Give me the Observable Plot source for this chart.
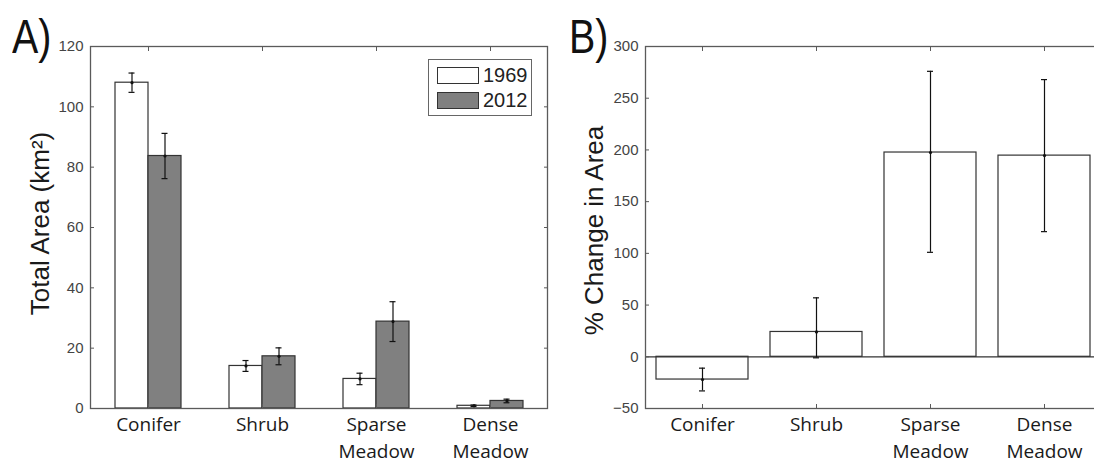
<!DOCTYPE html>
<html><head><meta charset="utf-8">
<script src="https://cdn.jsdelivr.net/npm/d3@7"></script>
<script src="https://cdn.jsdelivr.net/npm/@observablehq/plot@0.6"></script>
<style>
html,body{margin:0;padding:0;background:#fff;overflow:hidden;}
#wrap{position:relative;width:1094px;height:464px;overflow:hidden;background:#fff;}
.panel{position:absolute;top:0;}
.tag{position:absolute;font-family:"Liberation Sans",Arial,sans-serif;font-size:48px;line-height:48px;color:#111;transform:scaleX(0.82);transform-origin:0 0;}
.legend{position:absolute;left:428px;top:59px;width:102px;height:55px;border:1.5px solid #666;background:#fff;box-sizing:content-box;}
.legend .row{position:absolute;left:8px;height:19px;display:flex;align-items:center;}
.legend .sw{width:42px;height:17px;border:1.5px solid #333;box-sizing:border-box;}
.legend .lab{font-family:"Liberation Sans",Arial,sans-serif;font-size:20px;color:#222;margin-left:4px;}
</style></head>
<body><div id="wrap"></div>
<script>
// ---- data ----
const categories = ["Conifer", "Shrub", "Sparse\nMeadow", "Dense\nMeadow"];
const years = ["1969", "2012"];
const area1969 = [108, 14.1, 9.8, 0.9];
const err1969 = [3.2, 1.8, 1.9, 0.25];
const area2012 = [83.7, 17.3, 28.8, 2.5];
const err2012 = [7.5, 2.8, 6.6, 0.6];
const pctChange = [-22, 24, 197.5, 194.5];
const pctLow = [-33, -1, 101, 121];
const pctHigh = [-11, 57, 276, 268];
const yTicksA = [0, 20, 40, 60, 80, 100, 120];
const yTicksB = [-50, 0, 50, 100, 150, 200, 250, 300];
const titleA = "Total Area (km²)";
const titleB = "% Change in Area";

// ---- styles ----
const fills = ["#ffffff", "#808080"];
const edge = "#333";
const spine = "#5a5a5a";
const catFont = {fontFamily: "'Open Sans', sans-serif", fontSize: 19, lineHeight: 1.4, fill: "#1a1a1a"};
const baseStyle = {fontFamily: "'Liberation Sans', Arial, sans-serif", fontSize: "15px", color: "#444", background: "transparent", overflow: "visible"};

const dataA = categories.map((c, i) => ({cat: c, a69: area1969[i], e69: err1969[i], a12: area2012[i], e12: err2012[i]}));
const dataB = categories.map((c, i) => ({cat: c, pct: pctChange[i], lo: pctLow[i], hi: pctHigh[i]}));

function frameAxes(yTicks, title, titleDx, titleDy) {
  return [
    Plot.axisY(yTicks, {anchor: "left", tickSize: 0, tickPadding: 7, label: null, fill: "#444"}),
    Plot.axisY(yTicks, {anchor: "left", tickSize: 4, dx: 4, fill: "none", label: null, stroke: spine}),
    Plot.axisY(yTicks, {anchor: "right", tickSize: 4, dx: -4, fill: "none", label: null, stroke: spine}),
    Plot.axisX({anchor: "bottom", tickSize: 0, tickPadding: 4, label: null, ...catFont}),
    Plot.axisX({anchor: "bottom", tickSize: 4, dy: -4, fill: "none", label: null, stroke: spine}),
    Plot.axisX({anchor: "top", tickSize: 4, dy: 4, fill: "none", label: null, stroke: spine}),
    Plot.frame({stroke: spine, strokeWidth: 1.3}),
    Plot.text([title], {frameAnchor: "left", rotate: -90, dx: titleDx, dy: titleDy, text: d => d,
      textAnchor: "middle", lineAnchor: "middle",
      fontSize: 26, fontFamily: "'Liberation Sans', Arial, sans-serif", fill: "#1a1a1a"})
  ];
}

function errMarks(data, yv, lo, hi, dx) {
  return [
    Plot.ruleX(data, {x: "cat", y1: lo, y2: hi, dx, stroke: "#111", strokeWidth: 1.2}),
    Plot.tickY(data, {x: "cat", y: lo, dx, insetLeft: 54, insetRight: 54, stroke: "#111", strokeWidth: 1.2}),
    Plot.tickY(data, {x: "cat", y: hi, dx, insetLeft: 54, insetRight: 54, stroke: "#111", strokeWidth: 1.2}),
    Plot.dot(data, {x: "cat", y: yv, dx, r: 1.6, fill: "#111", stroke: null})
  ];
}

const plotA = Plot.plot({
  width: 550, height: 464,
  marginLeft: 90, marginRight: 3, marginTop: 46, marginBottom: 56,
  style: baseStyle,
  x: {type: "band", domain: categories, padding: 0},
  y: {domain: [0, 120]},
  marks: [
    Plot.barY(dataA, {x: "cat", y: "a69", fill: fills[0], stroke: edge, strokeWidth: 1.2, insetLeft: 24, insetRight: 57}),
    Plot.barY(dataA, {x: "cat", y: "a12", fill: fills[1], stroke: edge, strokeWidth: 1.2, insetLeft: 57, insetRight: 24}),
    ...errMarks(dataA, "a69", d => d.a69 - d.e69, d => d.a69 + d.e69, -16.5),
    ...errMarks(dataA, "a12", d => d.a12 - d.e12, d => d.a12 + d.e12, 16.5),
    ...frameAxes(yTicksA, titleA, -50, -4)
  ]
});

const plotB = Plot.plot({
  width: 560, height: 464,
  marginLeft: 100, marginRight: 4, marginTop: 46, marginBottom: 56,
  style: baseStyle,
  x: {type: "band", domain: categories, padding: 0},
  y: {domain: [-50, 300]},
  marks: [
    Plot.barY(dataB, {x: "cat", y: "pct", fill: fills[0], stroke: edge, strokeWidth: 1.2, insetLeft: 11, insetRight: 11}),
    Plot.ruleY([0], {stroke: edge, strokeWidth: 1.2}),
    ...errMarks(dataB, "pct", "lo", "hi", 0),
    ...frameAxes(yTicksB, titleB, -51, 3)
  ]
});

const wrap = document.getElementById("wrap");
plotA.classList.add("panel"); plotA.style.left = "0px";
plotB.classList.add("panel"); plotB.style.left = "545px";
wrap.appendChild(plotA);
wrap.appendChild(plotB);

const tagA = document.createElement("div");
tagA.className = "tag"; tagA.textContent = "A)"; tagA.style.left = "12px"; tagA.style.top = "13px";
const tagB = document.createElement("div");
tagB.className = "tag"; tagB.textContent = "B)"; tagB.style.left = "569px"; tagB.style.top = "13px";
wrap.appendChild(tagA); wrap.appendChild(tagB);

const legend = document.createElement("div");
legend.className = "legend";
years.forEach((yr, i) => {
  const row = document.createElement("div");
  row.className = "row";
  row.style.top = (6 + i * 25) + "px";
  const sw = document.createElement("div");
  sw.className = "sw"; sw.style.background = fills[i];
  const lab = document.createElement("span");
  lab.className = "lab"; lab.textContent = yr;
  row.appendChild(sw); row.appendChild(lab);
  legend.appendChild(row);
});
wrap.appendChild(legend);
</script>
</body></html>
